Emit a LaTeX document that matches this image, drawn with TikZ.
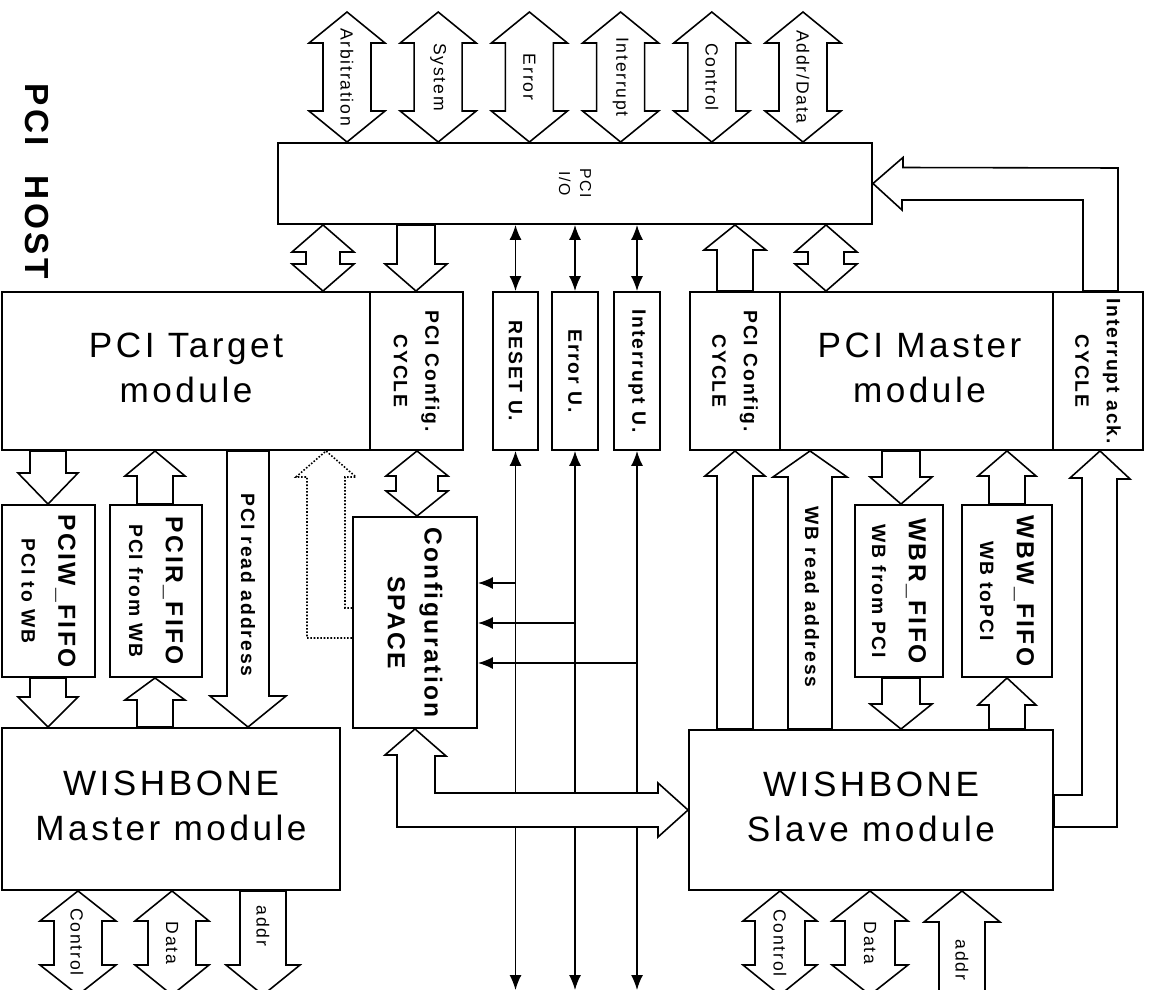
\documentclass[tikz,border=0pt]{standalone}
\usepackage{fontspec}
\setmainfont{Liberation Sans}[LetterSpace=10]
\usetikzlibrary{arrows.meta, calc, fit}

% hollow block arrows, vertical: x, upper anchor, lower anchor, shaft half width, head half width, head length
\newcommand{\dblarrow}[6]{%
  \draw[blockarrow] (#1,0 |- #2) -- ++(#5,#6) -- ++({#4-#5},0)
    -- ($(#1,0 |- #3)+(#4,{-#6})$) -- ++({#5-#4},0) -- (#1,0 |- #3)
    -- ++({-#5},{-#6}) -- ++({#5-#4},0) -- ($(#1,0 |- #2)+({-#4},#6)$)
    -- ++({#4-#5},0) -- cycle;}
\newcommand{\arrowup}[6]{%
  \draw[blockarrow] (#1,0 |- #2) -- ++(#5,#6) -- ++({#4-#5},0)
    -- ($(#1,0 |- #3)+(#4,0)$) -- ++({-2*#4},0)
    -- ($(#1,0 |- #2)+({-#4},#6)$) -- ++({#4-#5},0) -- cycle;}
\newcommand{\arrowdown}[6]{%
  \draw[blockarrow] (#1,0 |- #3) -- ++(#5,{-#6}) -- ++({#4-#5},0)
    -- ($(#1,0 |- #2)+(#4,0)$) -- ++({-2*#4},0)
    -- ($(#1,0 |- #3)+({-#4},{-#6})$) -- ++({#4-#5},0) -- cycle;}

\begin{document}
\begin{tikzpicture}[x=0.2mm, y=-0.2mm,
    blockbox/.style={draw, line width=1.1pt, inner sep=0pt},
    blockarrow/.style={draw, fill=white, line width=0.9pt},
    wire/.style={line width=0.8pt},
    >={Latex[length=3mm, width=2.4mm]},
    vlabel/.style={rotate=-90, align=center},
    bigname/.style={align=center, font=\fontsize{20}{26}\selectfont},
    cyclelbl/.style={vlabel, font=\bfseries\fontsize{11}{18}\selectfont},
    fifolbl/.style={vlabel, font=\bfseries\fontsize{11}{21}\selectfont},
    siglbl/.style={vlabel, font=\fontsize{10}{12}\selectfont},
  ]
  \useasboundingbox (0,0) rectangle (1153,990);
  \coordinate (sky) at (0,12);
  \coordinate (floor) at (0,990);
  \coordinate (ground) at (0,995);

  \node[rotate=-90, font=\bfseries\fontsize{19}{24}\selectfont] (host) at (37,181) {PCI\hspace{6mm}HOST};

  % PCI side
  \node[blockbox, fit={(278,143) (872,224)}] (io) {};
  \node[vlabel, font=\fontsize{9}{12}\selectfont] (ioname) at (io) {PCI\\I/O};
  \foreach \sig [count=\i from 0] in {Arbitration, System, Error, Interrupt, Control, {Addr/Data}} {
    \pgfmathsetmacro{\ax}{347+91.2*\i}
    \dblarrow{\ax}{sky}{io.north}{24}{38}{31}
    \node[siglbl] (sig\i) at (\ax,77) {\sig};
  }

  \node[blockbox, fit={(2,292) (370,450)}] (tgt) {};
  \node[bigname] (tgtname) at ($(tgt.center)+(0,-3)$) {PCI Target\\module};
  \node[blockbox, fit={(370,292) (463,450)}] (tcfg) {};
  \node[cyclelbl] (tcfgname) at (tcfg) {PCI Config.\\CYCLE};
  \node[blockbox, fit={(493,292) (538,450)}] (rstu) {};
  \node[cyclelbl] (rstuname) at (rstu) {RESET U.};
  \node[blockbox, fit={(552,292) (598,450)}] (erru) {};
  \node[cyclelbl] (erruname) at (erru) {Error U.};
  \node[blockbox, fit={(614,292) (660,450)}] (intu) {};
  \node[cyclelbl] (intuname) at (intu) {Interrupt U.};
  \node[blockbox, fit={(690,292) (780,450)}] (mcfg) {};
  \node[cyclelbl] (mcfgname) at (mcfg) {PCI Config.\\CYCLE};
  \node[blockbox, fit={(780,292) (1053,450)}] (mst) {};
  \node[bigname] (mstname) at ($(mst.center)+(3,-3)$) {PCI Master\\module};
  \node[blockbox, fit={(1053,292) (1143,450)}] (iack) {};
  \node[cyclelbl] (iackname) at (iack) {Interrupt ack.\\CYCLE};

  \dblarrow{323}{io.south}{tgt.north}{17}{31}{27}
  \arrowdown{416}{io.south}{tcfg.north}{19}{31}{27}
  \arrowup{735}{io.south}{mcfg.north}{18}{31}{25}
  \dblarrow{826}{io.south}{mst.north}{18}{31}{27}
  \foreach \u in {rstu, erru, intu}
    \draw[wire, <->] (\u.north |- io.south) -- (\u.north);
  \draw[blockarrow] (io.east) -- ++(30,-26) -- ++(0,10) -- (1118,168)
    -- (1118,0 |- iack.north) -- (1083,0 |- iack.north) -- (1083,200)
    -- (902,200) -- ++(0,10) -- cycle;

  % FIFOs and configuration space
  \node[blockbox, fit={(2,505) (95,677)}] (pciw) {};
  \node[fifolbl] (pciwname) at (pciw) {{\fontsize{14}{21}\selectfont PCIW\_FIFO}\\PCI to WB};
  \node[blockbox, fit={(110,505) (202,677)}] (pcir) {};
  \node[fifolbl] (pcirname) at (pcir) {{\fontsize{14}{21}\selectfont PCIR\_FIFO}\\PCI from WB};
  \node[blockbox, fit={(353,517) (477,728)}] (cfgsp) {};
  \node[vlabel, font=\bfseries\fontsize{14}{21}\selectfont] (cfgspname) at (cfgsp) {Configuration\\SPACE};
  \node[blockbox, fit={(855,505) (943,677)}] (wbr) {};
  \node[fifolbl] (wbrname) at (wbr) {{\fontsize{14}{21}\selectfont WBR\_FIFO}\\WB from PCI};
  \node[blockbox, fit={(962,505) (1052,677)}] (wbw) {};
  \node[fifolbl] (wbwname) at (wbw) {{\fontsize{14}{21}\selectfont WBW\_FIFO}\\WB toPCI};

  % WISHBONE side
  \node[blockbox, fit={(2,728) (340,890)}] (wbm) {};
  \node[bigname] (wbmname) at ($(wbm.center)+(0,-3)$) {WISHBONE\\Master module};
  \node[blockbox, fit={(689,730) (1053,890)}] (wbs) {};
  \node[bigname] (wbsname) at ($(wbs.center)+(0,-3)$) {WISHBONE\\Slave module};

  \arrowdown{48}{tgt.south}{pciw.north}{18}{30}{31}
  \arrowdown{48}{pciw.south}{wbm.north}{18}{30}{30}
  \arrowup{155}{tgt.south}{pcir.north}{18}{30}{25}
  \arrowup{155}{pcir.south}{wbm.north}{18}{30}{22}
  \arrowdown{248}{tgt.south}{wbm.north}{21}{38}{31}
  \node[cyclelbl] (rdaddr) at (248,585) {PCI read address};
  \dblarrow{417}{tcfg.south}{cfgsp.north}{21}{31}{25}
  \draw[line width=0.9pt, densely dotted] (cfgsp.west |- 0,638) -- (307,638) -- (307,477)
    -- (296,477) -- (326,0 |- tgt.south) -- (356,477) -- (345,477) -- (345,608)
    -- (cfgsp.west |- 0,608);

  \arrowup{735}{mcfg.south}{wbs.north}{18}{30}{25}
  \arrowup{810}{mst.south}{wbs.north}{22}{37}{26}
  \node[cyclelbl] (wbaddr) at (812,597) {WB read address};
  \arrowdown{901}{mst.south}{wbr.north}{19}{31}{27}
  \arrowdown{901}{wbr.south}{wbs.north}{19}{31}{25}
  \arrowup{1007}{mst.south}{wbw.north}{18}{29}{25}
  \arrowup{1007}{wbw.south}{wbs.north}{18}{29}{27}
  \draw[blockarrow] (1100,0 |- iack.south) -- ++(30,28) -- ++(-13,0) -- (1117,827)
    -- (wbs.east |- 0,827) -- (wbs.east |- 0,795) -- (1082,795) -- (1082,478)
    -- ++(-12,0) -- cycle;

  % unit lines
  \foreach \u in {rstu, erru, intu}
    \draw[wire, <->] (\u.south) -- (\u.south |- floor);
  \draw[wire, ->] (rstu.south |- 0,583) -- (cfgsp.east |- 0,583);
  \draw[wire, ->] (erru.south |- 0,623) -- (cfgsp.east |- 0,623);
  \draw[wire, ->] (intu.south |- 0,663) -- (cfgsp.east |- 0,663);
  \draw[blockarrow] (415,0 |- cfgsp.south) -- ++(31,27) -- ++(-11,0) -- (435,793)
    -- (658,793) -- (658,783) -- (wbs.west) -- (658,837) -- (658,827)
    -- (397,827) -- (397,755) -- ++(-12,0) -- cycle;

  % WISHBONE bus
  \dblarrow{78}{wbm.south}{ground}{24}{38}{30}
  \node[siglbl] (mctl) at (77,942) {Control};
  \dblarrow{172}{wbm.south}{ground}{24}{37}{30}
  \node[siglbl] (mdat) at (172,943) {Data};
  \arrowdown{263}{wbm.south}{ground}{23}{37}{30}
  \node[siglbl] (madr) at (263,926) {addr};
  \dblarrow{780}{wbs.south}{ground}{25}{37}{30}
  \node[siglbl] (sctl) at (780,943) {Control};
  \dblarrow{870}{wbs.south}{ground}{25}{38}{30}
  \node[siglbl] (sdat) at (870,943) {Data};
  \arrowup{962}{wbs.south}{ground}{23}{38}{31}
  \node[siglbl] (sadr) at (962,960) {addr};
\end{tikzpicture}
\end{document}
